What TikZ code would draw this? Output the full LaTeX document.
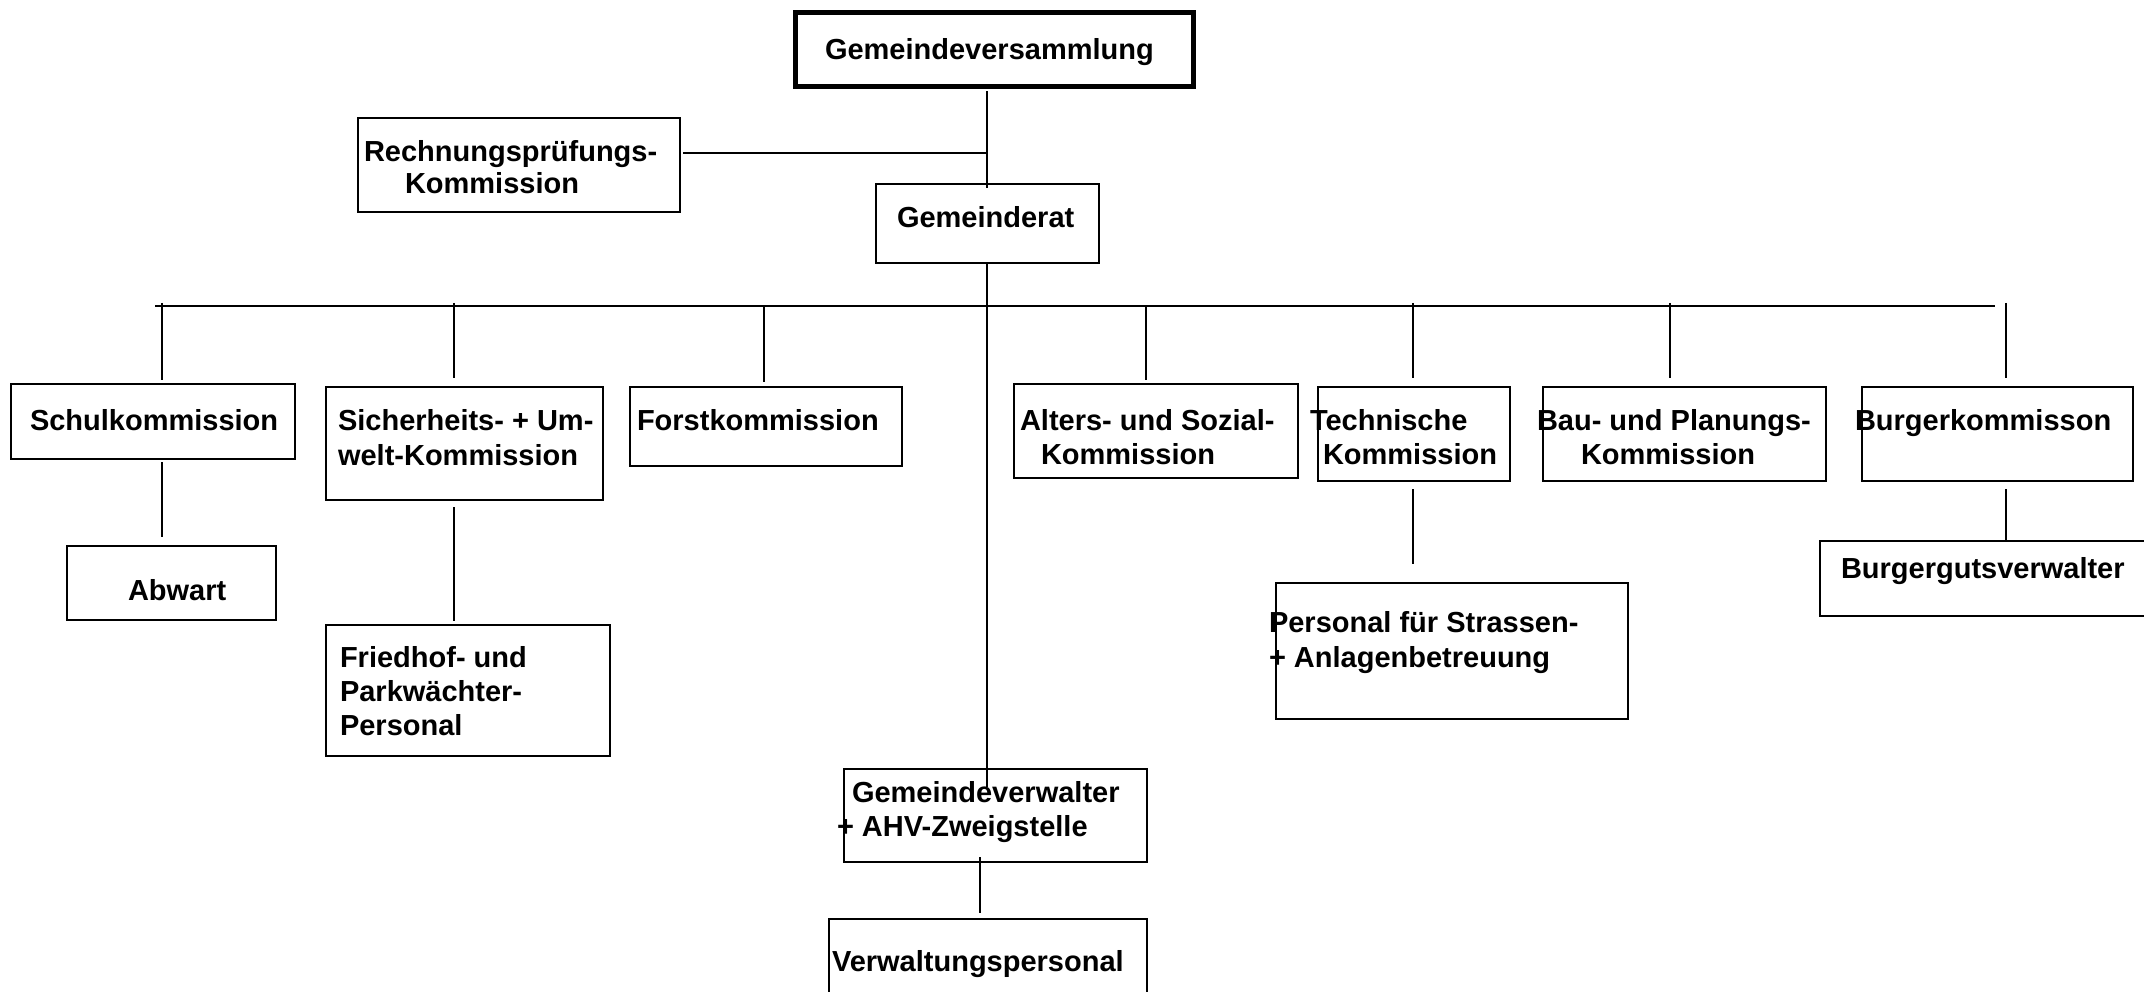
\documentclass[tikz,border=0pt]{standalone}
\usepackage{fontspec}
\setmainfont{Liberation Sans}
\begin{document}
\begin{tikzpicture}[x=1pt,y=-1pt,
  box/.style={draw=black,line width=2.75pt,rectangle,inner sep=0pt,outer sep=0pt,anchor=north west},
  thickbox/.style={box,line width=5pt},
  lbl/.style={anchor=base west,inner sep=0pt,outer sep=0pt,font=\fontsize{29}{34}\selectfont\bfseries},
  conn/.style={draw=black,line width=2.2pt}]
\clip (0,0) rectangle (2144,992);
\fill[white] (0,0) rectangle (2144,992);
% boxes
\node[thickbox,minimum width=398pt,minimum height=74pt] (gv) at (795.5,12.5) {};
\node[box,minimum width=322pt,minimum height=94pt] (rpk) at (358,118) {};
\node[box,minimum width=223pt,minimum height=79pt] (gr) at (876,184) {};
\node[box,minimum width=284pt,minimum height=75pt] (schul) at (11,384) {};
\node[box,minimum width=277pt,minimum height=113pt] (sich) at (326,387) {};
\node[box,minimum width=272pt,minimum height=79pt] (forst) at (630,387) {};
\node[box,minimum width=284pt,minimum height=94pt] (alters) at (1014,384) {};
\node[box,minimum width=192pt,minimum height=94pt] (tech) at (1318,387) {};
\node[box,minimum width=283pt,minimum height=94pt] (bau) at (1543,387) {};
\node[box,minimum width=271pt,minimum height=94pt] (burg) at (1862,387) {};
\node[box,minimum width=209pt,minimum height=74pt] (abwart) at (67,546) {};
\node[box,minimum width=284pt,minimum height=131pt] (friedhof) at (326,625) {};
\node[box,minimum width=352pt,minimum height=136pt] (personal) at (1276,583) {};
\node[box,minimum width=303pt,minimum height=93pt] (gverw) at (844,769) {};
\node[box,minimum width=318pt,minimum height=100pt] (verwp) at (829,919) {};
\node[box,minimum width=340pt,minimum height=75pt] (bgv) at (1820,541) {};
% texts
\node[lbl] (t-gv) at (825,60) {Gemeindeversammlung};
\node[lbl] (t-rpk1) at (364,162) {Rechnungsprüfungs-};
\node[lbl] (t-rpk2) at (405,194) {Kommission};
\node[lbl] (t-gr) at (897,228) {Gemeinderat};
\node[lbl] (t-schul) at (30,430) {Schulkommission};
\node[lbl] (t-sich1) at (338,430) {Sicherheits- + Um-};
\node[lbl] (t-sich2) at (338,465) {welt-Kommission};
\node[lbl] (t-forst) at (637,430) {Forstkommission};
\node[lbl] (t-alt1) at (1020,430) {Alters- und Sozial-};
\node[lbl] (t-alt2) at (1041,464) {Kommission};
\node[lbl] (t-tech1) at (1310,430) {Technische};
\node[lbl] (t-tech2) at (1323,464) {Kommission};
\node[lbl] (t-bau1) at (1537,430) {Bau- und Planungs-};
\node[lbl] (t-bau2) at (1581,464) {Kommission};
\node[lbl] (t-burg) at (1855,430) {Burgerkommisson};
\node[lbl] (t-abw) at (128,600) {Abwart};
\node[lbl] (t-fr1) at (340,667) {Friedhof- und};
\node[lbl] (t-fr2) at (340,701) {Parkwächter-};
\node[lbl] (t-fr3) at (340,735) {Personal};
\node[lbl] (t-pe1) at (1269,632) {Personal für Strassen-};
\node[lbl] (t-pe2) at (1269,667) {+ Anlagenbetreuung};
\node[lbl] (t-gvw1) at (852,802) {Gemeindeverwalter};
\node[lbl] (t-gvw2) at (837,836) {+ AHV-Zweigstelle};
\node[lbl] (t-vp) at (832,971) {Verwaltungspersonal};
\node[lbl] (t-bgv) at (1841,578) {Burgergutsverwalter};
% connectors
\coordinate (m) at (987,0);
\draw[conn,shorten <=5pt,shorten >=-4pt] (m |- gv.south) -- (m |- gr.north);
\coordinate (rj) at (987,153);
\draw[conn,shorten >=3pt] (rj) -- (rj -| rpk.east);
\draw[conn,shorten >=-18pt] (m |- gr.south) -- (m |- gverw.north);
\coordinate (busL) at (155,306);
\coordinate (busR) at (1995,306);
\draw[conn] (busL) -- (busR);
\coordinate (d1) at (162,303);
\coordinate (d2) at (454,303);
\coordinate (d3) at (764,307);
\coordinate (d4) at (1146,307);
\coordinate (d5) at (1413,303);
\coordinate (d6) at (1670,303);
\coordinate (d7) at (2006,303);
\draw[conn,shorten >=4pt] (d1) -- (d1 |- schul.north);
\draw[conn,shorten >=9pt] (d2) -- (d2 |- sich.north);
\draw[conn,shorten >=5pt] (d3) -- (d3 |- forst.north);
\draw[conn,shorten >=4pt] (d4) -- (d4 |- alters.north);
\draw[conn,shorten >=9pt] (d5) -- (d5 |- tech.north);
\draw[conn,shorten >=9pt] (d6) -- (d6 |- bau.north);
\draw[conn,shorten >=9pt] (d7) -- (d7 |- burg.north);
\draw[conn,shorten <=3pt,shorten >=9pt] (d1 |- schul.south) -- (d1 |- abwart.north);
\draw[conn,shorten <=7pt,shorten >=4pt] (d2 |- sich.south) -- (d2 |- friedhof.north);
\draw[conn,shorten <=8pt,shorten >=19pt] (d5 |- tech.south) -- (d5 |- personal.north);
\draw[conn,shorten <=8pt,shorten >=-1pt] (d7 |- burg.south) -- (d7 |- bgv.north);
\coordinate (v1) at (980,857);
\draw[conn,shorten >=6pt] (v1) -- (v1 |- verwp.north);
\end{tikzpicture}
\end{document}
